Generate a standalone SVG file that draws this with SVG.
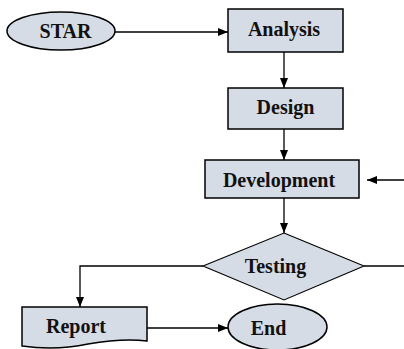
<svg xmlns="http://www.w3.org/2000/svg" width="404" height="349" viewBox="0 0 404 349">
<style>
.shape{fill:#d6dce5;stroke:#000;stroke-width:1.5}
.thin{stroke-width:1.1}
.lbl{font-family:"Liberation Serif","Times New Roman",serif;font-weight:bold;font-size:20px;fill:#111;text-anchor:middle}
.conn{fill:none;stroke:#000;stroke-width:1.3}
</style>
<defs>
<marker id="ah" viewBox="0 0 10 8" refX="10" refY="4" markerWidth="10" markerHeight="8" markerUnits="userSpaceOnUse" orient="auto">
<path d="M0,0 L10,4 L0,8 Z" fill="#000"/>
</marker>
</defs>
<rect width="404" height="349" fill="#fff"/>
<g id="connectors">
<line class="conn" x1="115" y1="32" x2="228" y2="32" marker-end="url(#ah)"/>
<line class="conn" x1="284" y1="52" x2="284" y2="88" marker-end="url(#ah)"/>
<line class="conn" x1="284" y1="129" x2="284" y2="160" marker-end="url(#ah)"/>
<line class="conn" x1="404" y1="180" x2="367" y2="180" marker-end="url(#ah)"/>
<line class="conn" x1="284" y1="198" x2="284" y2="233" marker-end="url(#ah)"/>
<line class="conn" x1="364" y1="266" x2="404" y2="266"/>
<polyline class="conn" points="203,266 80,266 80,307" marker-end="url(#ah)"/>
<line class="conn" x1="147" y1="328" x2="228" y2="328" stroke-width="1.8" marker-end="url(#ah)"/>
</g>
<g id="star">
<ellipse class="shape" cx="61" cy="31" rx="54" ry="19"/>
<text class="lbl" x="65.5" y="38">STAR</text>
</g>
<g id="analysis">
<rect class="shape" x="228" y="9" width="115" height="43"/>
<text class="lbl" x="284" y="36">Analysis</text>
</g>
<g id="design">
<rect class="shape" x="228" y="88" width="115" height="41"/>
<text class="lbl" x="285.5" y="114">Design</text>
</g>
<g id="development">
<rect class="shape" x="205" y="160" width="154" height="38"/>
<text class="lbl" x="279" y="187">Development</text>
</g>
<g id="testing">
<polygon class="shape thin" points="284,233 364,266 284,300 203,266"/>
<text class="lbl" x="275.5" y="273">Testing</text>
</g>
<g id="report">
<path class="shape" d="M22,307 H147 V341 C125,338 105,341 88,344 C65,349 42,349 22,346 Z"/>
<text class="lbl" x="76" y="333">Report</text>
</g>
<g id="end">
<ellipse class="shape" cx="277.5" cy="327" rx="49.5" ry="23"/>
<text class="lbl" x="268.5" y="335">End</text>
</g>
</svg>
